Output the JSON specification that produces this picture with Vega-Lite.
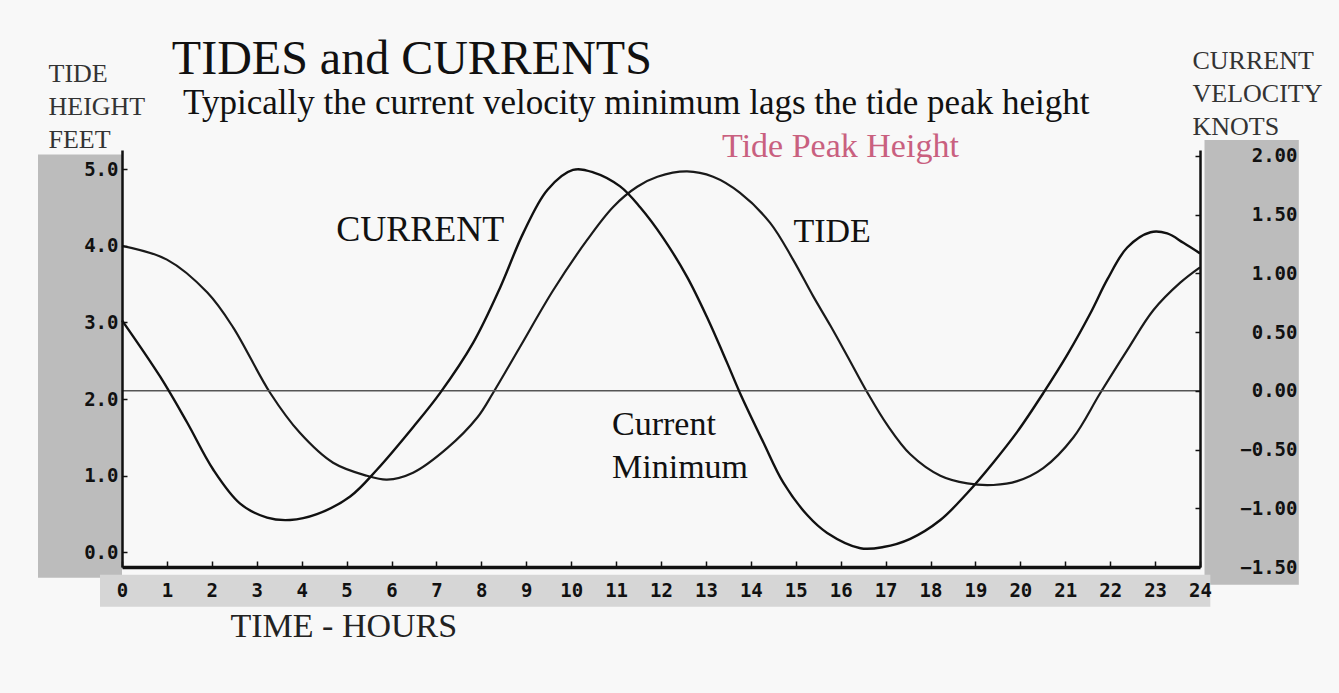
{
  "$schema": "https://vega.github.io/schema/vega-lite/v6.json",
  "width": 1078,
  "height": 417,
  "autosize": "none",
  "padding": {"left": 122, "top": 150, "right": 139, "bottom": 126},
  "background": "#f8f8f8",
  "config": {"view": {"stroke": null}, "font": "Liberation Serif"},
  "datasets": {
    "tide": [
      {"h": 0, "ft": 4.0}, {"h": 1.0, "ft": 3.82}, {"h": 1.9, "ft": 3.39}, {"h": 2.47, "ft": 2.94},
      {"h": 3.3, "ft": 2.08}, {"h": 3.96, "ft": 1.56}, {"h": 4.7, "ft": 1.17}, {"h": 5.45, "ft": 1.0},
      {"h": 5.9, "ft": 0.95}, {"h": 6.48, "ft": 1.04}, {"h": 7.24, "ft": 1.36}, {"h": 7.91, "ft": 1.76},
      {"h": 8.26, "ft": 2.08}, {"h": 8.86, "ft": 2.68}, {"h": 9.6, "ft": 3.42}, {"h": 10.36, "ft": 4.08},
      {"h": 10.94, "ft": 4.51}, {"h": 11.47, "ft": 4.77}, {"h": 11.92, "ft": 4.9}, {"h": 12.58, "ft": 4.97},
      {"h": 13.16, "ft": 4.9}, {"h": 13.76, "ft": 4.69}, {"h": 14.43, "ft": 4.3}, {"h": 14.94, "ft": 3.82},
      {"h": 15.39, "ft": 3.34}, {"h": 15.77, "ft": 2.96}, {"h": 16.15, "ft": 2.56}, {"h": 16.6, "ft": 2.08},
      {"h": 17.04, "ft": 1.66}, {"h": 17.55, "ft": 1.28}, {"h": 18.22, "ft": 1.0}, {"h": 18.82, "ft": 0.9},
      {"h": 19.4, "ft": 0.88}, {"h": 19.93, "ft": 0.93}, {"h": 20.51, "ft": 1.1}, {"h": 21.18, "ft": 1.5},
      {"h": 21.78, "ft": 2.08}, {"h": 22.38, "ft": 2.64}, {"h": 22.96, "ft": 3.16}, {"h": 23.56, "ft": 3.52},
      {"h": 24, "ft": 3.72}
    ],
    "current": [
      {"h": 0, "kn": 0.6}, {"h": 0.85, "kn": 0.12}, {"h": 1.45, "kn": -0.27}, {"h": 2.03, "kn": -0.67},
      {"h": 2.63, "kn": -0.96}, {"h": 3.23, "kn": -1.08}, {"h": 3.74, "kn": -1.1}, {"h": 4.34, "kn": -1.05},
      {"h": 5.08, "kn": -0.9}, {"h": 5.68, "kn": -0.67}, {"h": 6.48, "kn": -0.31}, {"h": 7.08, "kn": -0.02},
      {"h": 7.82, "kn": 0.41}, {"h": 8.42, "kn": 0.88}, {"h": 8.93, "kn": 1.34}, {"h": 9.47, "kn": 1.71},
      {"h": 10.04, "kn": 1.88}, {"h": 10.49, "kn": 1.86}, {"h": 11.09, "kn": 1.74}, {"h": 11.54, "kn": 1.56},
      {"h": 12.05, "kn": 1.3}, {"h": 12.58, "kn": 0.97}, {"h": 13.02, "kn": 0.63}, {"h": 13.47, "kn": 0.24},
      {"h": 13.76, "kn": -0.02}, {"h": 14.28, "kn": -0.44}, {"h": 14.72, "kn": -0.78}, {"h": 15.26, "kn": -1.06},
      {"h": 15.7, "kn": -1.21}, {"h": 16.44, "kn": -1.34}, {"h": 16.95, "kn": -1.33}, {"h": 17.55, "kn": -1.26},
      {"h": 18.22, "kn": -1.1}, {"h": 18.82, "kn": -0.87}, {"h": 19.4, "kn": -0.61}, {"h": 19.93, "kn": -0.35},
      {"h": 20.51, "kn": -0.02}, {"h": 21.05, "kn": 0.31}, {"h": 21.56, "kn": 0.66}, {"h": 21.94, "kn": 0.95},
      {"h": 22.38, "kn": 1.22}, {"h": 22.9, "kn": 1.35}, {"h": 23.27, "kn": 1.34}, {"h": 23.63, "kn": 1.26},
      {"h": 24, "kn": 1.17}
    ],
    "zero": [{"kn": 0}],
    "one": [{}]
  },
  "resolve": {"scale": {"y": "independent"}},
  "layer": [
    {
      "layer": [
        {
          "data": {"name": "one"},
          "mark": {"type": "rect", "color": "#bcbcbc"},
          "encoding": {
            "x": {"datum": -1.87, "type": "quantitative", "scale": {"domain": [0, 24], "nice": false}},
            "x2": {"datum": 0},
            "y": {"datum": 5.19, "type": "quantitative", "scale": {"domain": [-0.19, 5.25], "nice": false, "zero": false}},
            "y2": {"datum": -0.33}
          }
        },
        {
          "data": {"name": "one"},
          "mark": {"type": "rect", "color": "#bcbcbc"},
          "encoding": {
            "x": {"datum": 24.1, "type": "quantitative", "scale": {"domain": [0, 24], "nice": false}},
            "x2": {"datum": 26.2},
            "y": {"datum": 5.38, "type": "quantitative", "scale": {"domain": [-0.19, 5.25], "nice": false, "zero": false}},
            "y2": {"datum": -0.42}
          }
        },
        {
          "data": {"name": "one"},
          "mark": {"type": "rect", "color": "#d6d6d6"},
          "encoding": {
            "x": {"datum": -0.49, "type": "quantitative", "scale": {"domain": [0, 24], "nice": false}},
            "x2": {"datum": 24.23},
            "y": {"datum": -0.29, "type": "quantitative", "scale": {"domain": [-0.19, 5.25], "nice": false, "zero": false}},
            "y2": {"datum": -0.71}
          }
        },
        {
          "data": {"name": "tide"},
          "mark": {"type": "line", "color": "#1a1a1a", "strokeWidth": 2.2, "interpolate": "catmull-rom"},
          "encoding": {
            "x": {
              "field": "h", "type": "quantitative",
              "scale": {"domain": [0, 24], "nice": false},
              "axis": {
                "zindex": 1,
                "values": [0,1,2,3,4,5,6,7,8,9,10,11,12,13,14,15,16,17,18,19,20,21,22,23,24],
                "format": "d", "grid": false,
                "domainColor": "#111", "domainWidth": 3.5,
                "tickColor": "#111", "tickSize": -6, "tickWidth": 1.5,
                "labelFont": "DejaVu Sans Mono", "labelFontWeight": "bold", "labelFontSize": 19,
                "labelColor": "#111", "labelPadding": 20, "labelFlush": false,
                "title": "TIME - HOURS", "titleFont": "Liberation Serif", "titleFontWeight": "normal",
                "titleFontSize": 34, "titleColor": "#222", "titleAnchor": "start", "titleAlign": "left",
                "titleBaseline": "alphabetic", "titleX": 108, "titleY": 69
              }
            },
            "y": {
              "field": "ft", "type": "quantitative",
              "scale": {"domain": [-0.19, 5.25], "nice": false, "zero": false},
              "axis": {
                "zindex": 1,
                "orient": "left", "values": [0, 1, 2, 3, 4, 5], "format": ".1f", "grid": false,
                "domainColor": "#111", "domainWidth": 2.5,
                "tickColor": "#111", "tickSize": -5, "tickWidth": 1.5,
                "labelFont": "DejaVu Sans Mono", "labelFontWeight": "bold", "labelFontSize": 19,
                "labelColor": "#111", "labelPadding": 9,
                "title": ["TIDE", "HEIGHT", "FEET"], "titleFont": "Liberation Serif", "titleFontWeight": "normal",
                "titleFontSize": 26, "titleColor": "#333", "titleAngle": 0, "titleAlign": "left",
                "titleBaseline": "alphabetic", "titleX": -74, "titleY": -69, "titleLineHeight": 33
              }
            }
          }
        },
        {
          "data": {"name": "one"},
          "mark": {"type": "text", "font": "Liberation Serif", "fontSize": 48, "align": "left", "baseline": "middle", "color": "#111"},
          "encoding": {
            "x": {"datum": 1.11, "type": "quantitative", "scale": {"domain": [0, 24], "nice": false}},
            "y": {"datum": 6.43, "type": "quantitative", "scale": {"domain": [-0.19, 5.25], "nice": false, "zero": false}},
            "text": {"value": "TIDES and CURRENTS"}
          }
        },
        {
          "data": {"name": "one"},
          "mark": {"type": "text", "font": "Liberation Serif", "fontSize": 35, "align": "left", "baseline": "middle", "color": "#111"},
          "encoding": {
            "x": {"datum": 1.36, "type": "quantitative", "scale": {"domain": [0, 24], "nice": false}},
            "y": {"datum": 5.86, "type": "quantitative", "scale": {"domain": [-0.19, 5.25], "nice": false, "zero": false}},
            "text": {"value": "Typically the current velocity minimum lags the tide peak height"}
          }
        },
        {
          "data": {"name": "one"},
          "mark": {"type": "text", "font": "Liberation Serif", "fontSize": 34, "align": "left", "baseline": "middle", "color": "#c9607f"},
          "encoding": {
            "x": {"datum": 13.36, "type": "quantitative", "scale": {"domain": [0, 24], "nice": false}},
            "y": {"datum": 5.29, "type": "quantitative", "scale": {"domain": [-0.19, 5.25], "nice": false, "zero": false}},
            "text": {"value": "Tide Peak Height"}
          }
        },
        {
          "data": {"name": "one"},
          "mark": {"type": "text", "font": "Liberation Serif", "fontSize": 36, "align": "center", "baseline": "middle", "color": "#111"},
          "encoding": {
            "x": {"datum": 6.64, "type": "quantitative", "scale": {"domain": [0, 24], "nice": false}},
            "y": {"datum": 4.21, "type": "quantitative", "scale": {"domain": [-0.19, 5.25], "nice": false, "zero": false}},
            "text": {"value": "CURRENT"}
          }
        },
        {
          "data": {"name": "one"},
          "mark": {"type": "text", "font": "Liberation Serif", "fontSize": 34, "align": "center", "baseline": "middle", "color": "#111"},
          "encoding": {
            "x": {"datum": 15.81, "type": "quantitative", "scale": {"domain": [0, 24], "nice": false}},
            "y": {"datum": 4.18, "type": "quantitative", "scale": {"domain": [-0.19, 5.25], "nice": false, "zero": false}},
            "text": {"value": "TIDE"}
          }
        },
        {
          "data": {"name": "one"},
          "mark": {"type": "text", "font": "Liberation Serif", "fontSize": 34, "align": "left", "baseline": "middle", "color": "#111"},
          "encoding": {
            "x": {"datum": 10.91, "type": "quantitative", "scale": {"domain": [0, 24], "nice": false}},
            "y": {"datum": 1.66, "type": "quantitative", "scale": {"domain": [-0.19, 5.25], "nice": false, "zero": false}},
            "text": {"value": "Current"}
          }
        },
        {
          "data": {"name": "one"},
          "mark": {"type": "text", "font": "Liberation Serif", "fontSize": 34, "align": "left", "baseline": "middle", "color": "#111"},
          "encoding": {
            "x": {"datum": 10.91, "type": "quantitative", "scale": {"domain": [0, 24], "nice": false}},
            "y": {"datum": 1.1, "type": "quantitative", "scale": {"domain": [-0.19, 5.25], "nice": false, "zero": false}},
            "text": {"value": "Minimum"}
          }
        }
      ]
    },
    {
      "layer": [
        {
          "data": {"name": "zero"},
          "mark": {"type": "rule", "color": "#555", "strokeWidth": 1.6},
          "encoding": {
            "y": {"field": "kn", "type": "quantitative", "scale": {"domain": [-1.5, 2.05], "nice": false, "zero": false}}
          }
        },
        {
          "data": {"name": "current"},
          "mark": {"type": "line", "color": "#111", "strokeWidth": 2.4, "interpolate": "catmull-rom"},
          "encoding": {
            "x": {"field": "h", "type": "quantitative", "scale": {"domain": [0, 24], "nice": false}},
            "y": {
              "field": "kn", "type": "quantitative",
              "scale": {"domain": [-1.5, 2.05], "nice": false, "zero": false},
              "axis": {
                "zindex": 1,
                "orient": "right", "values": [-1.5, -1, -0.5, 0, 0.5, 1, 1.5, 2], "format": ".2f", "grid": false,
                "domainColor": "#111", "domainWidth": 2.5,
                "tickColor": "#111", "tickSize": -5, "tickWidth": 1.5,
                "labelFont": "DejaVu Sans Mono", "labelFontWeight": "bold", "labelFontSize": 19,
                "labelColor": "#111", "labelAlign": "right", "labelPadding": 102,
                "title": ["CURRENT", "VELOCITY", "KNOTS"], "titleFont": "Liberation Serif", "titleFontWeight": "normal",
                "titleFontSize": 26, "titleColor": "#333", "titleAngle": 0, "titleAlign": "left",
                "titleBaseline": "alphabetic", "titleX": -8, "titleY": -82, "titleLineHeight": 33
              }
            }
          }
        }
      ]
    }
  ]
}
